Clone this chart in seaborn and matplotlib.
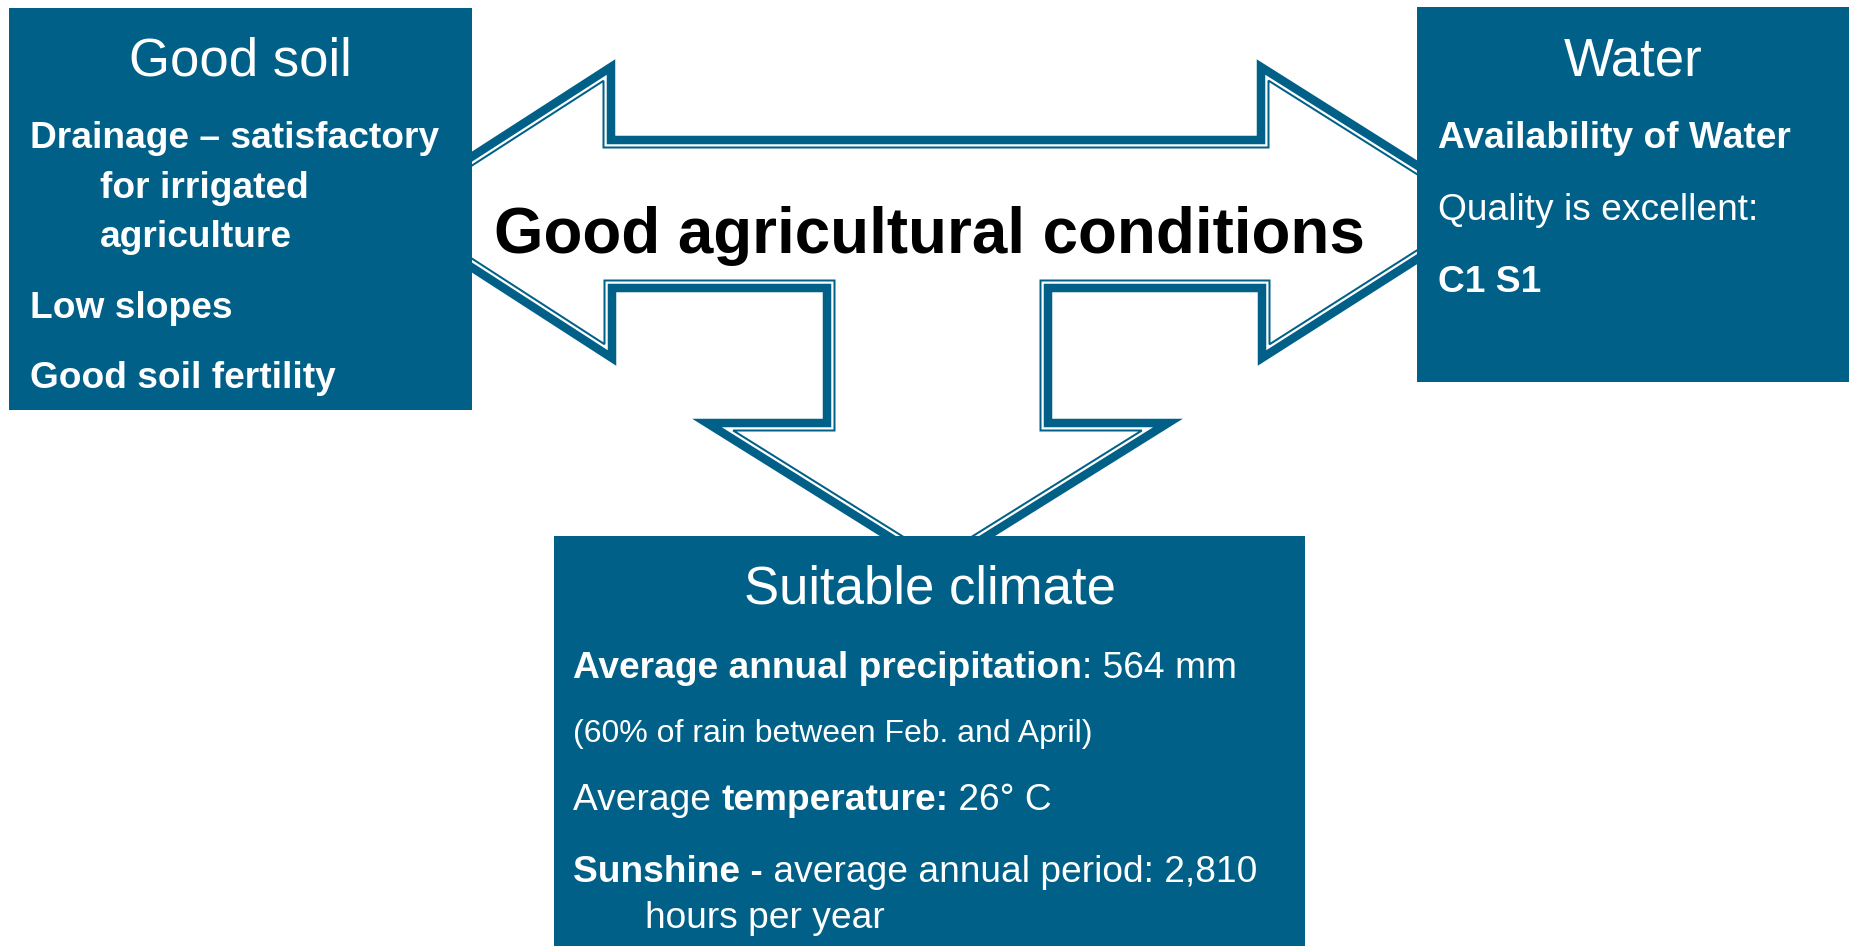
import numpy as np
import matplotlib
matplotlib.use("Agg")
import matplotlib.pyplot as plt
from matplotlib.patches import Polygon, Rectangle
import seaborn as sns

sns.set_theme(style="white")
plt.rcParams["font.family"] = ["Liberation Sans", "DejaVu Sans"]

BLUE = "#006088"

# ---- content -------------------------------------------------------------
center_title = "Good agricultural conditions"

soil_title = "Good soil"
soil_lines = [
    [("Drainage \u2013 satisfactory", "bold")],
    [("for irrigated", "bold")],
    [("agriculture", "bold")],
    [("Low slopes", "bold")],
    [("Good soil fertility", "bold")],
]
soil_indent = [False, True, True, False, False]

water_title = "Water"
water_lines = [
    [("Availability of Water", "bold")],
    [("Quality is excellent:", "normal")],
    [("C1 S1", "bold")],
]

climate_title = "Suitable climate"
climate_lines = [
    [("Average annual precipitation", "bold"), (": 564 mm", "normal")],
    [("(60% of rain between Feb. and April)", "normal")],
    [("Average ", "normal"), ("temperature:", "bold"), (" 26\u00b0 C", "normal")],
    [("Sunshine -", "bold"), (" average annual period: 2,810", "normal")],
    [("hours per year", "normal")],
]
climate_small = [False, True, False, False, False]
climate_indent = [False, False, False, False, True]

# ---- geometry of the arrow shape (pixel space, y down) -------------------
arrow_x = [386, 611, 611, 1261, 1261, 1491, 1262, 1262, 1048, 1048, 1168,
           937.5, 707, 827, 827, 612, 612]
arrow_y = [212, 67, 140, 140, 67, 212, 358, 288, 288, 423, 423,
           567, 423, 423, 288, 288, 358]


def offset_poly(xs, ys, d):
    p = np.column_stack([xs, ys]).astype(float)
    n = len(p)
    area = 0.5 * np.sum(p[:, 0] * np.roll(p[:, 1], -1) - np.roll(p[:, 0], -1) * p[:, 1])
    sgn = 1.0 if area > 0 else -1.0
    normals = []
    for i in range(n):
        u = p[(i + 1) % n] - p[i]
        u = u / np.hypot(*u)
        normals.append(sgn * np.array([-u[1], u[0]]))
    out = []
    for i in range(n):
        n0 = normals[i - 1]
        n1 = normals[i]
        m = (n0 + n1) / (1.0 + np.dot(n0, n1))
        out.append(p[i] + d * m)
    return np.array(out)


W, H = 1852, 946
fig = plt.figure(figsize=(W / 100, H / 100), dpi=100)
ax = fig.add_axes([0, 0, 1, 1])
ax.set_xlim(0, W)
ax.set_ylim(H, 0)
ax.axis("off")

px = 0.72  # points per pixel
outer = np.column_stack([arrow_x, arrow_y])
ax.add_patch(Polygon(outer, closed=True, facecolor="white", edgecolor=BLUE,
                     lw=8.5 * px, joinstyle="miter", zorder=2))
inner = offset_poly(arrow_x, arrow_y, 7.5)
ax.add_patch(Polygon(inner, closed=True, facecolor="none", edgecolor=BLUE,
                     lw=2.0 * px, joinstyle="miter", zorder=2))

# boxes
boxes = {"soil": (9, 8, 472, 410), "water": (1417, 7, 1849, 382),
         "climate": (554, 536, 1305, 946)}
for (x0, y0, x1, y1) in boxes.values():
    ax.add_patch(Rectangle((x0, y0), x1 - x0, y1 - y0, facecolor=BLUE,
                           edgecolor="none", zorder=5))

BODY = 26.7
TITLE = 38


def draw_line(x, y, segments, size, color="white"):
    prev = None
    for txt, wt in segments:
        if prev is None:
            prev = ax.text(x, y, txt, fontsize=size, fontweight=wt, color=color,
                           va="baseline", ha="left", zorder=6)
        else:
            prev = ax.annotate(txt, xy=(1, 0), xycoords=prev, fontsize=size,
                               fontweight=wt, color=color, va="bottom",
                               ha="left", zorder=6)


# centre title
ax.text(929, 253, center_title, fontsize=45.8, fontweight="bold", color="black",
        ha="center", va="baseline", zorder=4)

# soil box
ax.text(240.5, 75, soil_title, fontsize=TITLE, color="white", ha="center",
        va="baseline", zorder=6)
soil_base = [148, 198, 247, 318, 388]
for segs, yb, ind in zip(soil_lines, soil_base, soil_indent):
    draw_line(100 if ind else 30, yb, segs, BODY)

# water box
ax.text(1633, 75, water_title, fontsize=TITLE, color="white", ha="center",
        va="baseline", zorder=6)
water_base = [148, 220, 292]
for segs, yb in zip(water_lines, water_base):
    draw_line(1438, yb, segs, BODY)

# climate box
ax.text(929.5, 603, climate_title, fontsize=TITLE, color="white", ha="center",
        va="baseline", zorder=6)
climate_base = [678, 742, 810, 882, 928]
for segs, yb, sm, ind in zip(climate_lines, climate_base, climate_small, climate_indent):
    draw_line(645 if ind else 573, yb, segs, 23 if sm else BODY)

fig.savefig("out.png", dpi=100, facecolor="white")
